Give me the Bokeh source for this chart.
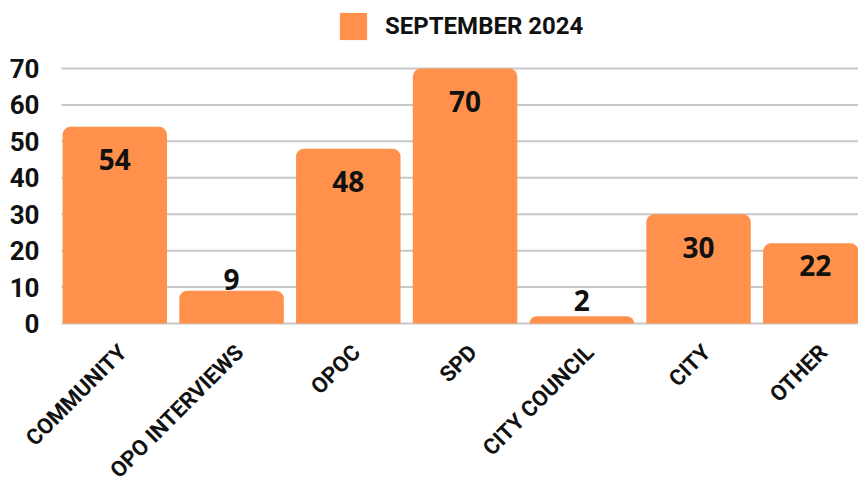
import math
import numpy as np
from bokeh.plotting import figure
from bokeh.models import Range1d, Legend, LegendItem, ColumnDataSource
from bokeh.core.properties import value
from bokeh.embed import file_html
from bokeh.resources import INLINE

categories = ["COMMUNITY", "OPO INTERVIEWS", "OPOC", "SPD", "CITY COUNCIL", "CITY", "OTHER"]
counts = [54, 9, 48, 70, 2, 30, 22]
y_ticks = [0, 10, 20, 30, 40, 50, 60, 70]
series_name = "SEPTEMBER 2024"

LABEL_FONT = "Roboto"
BAR = "#FF914D"
INK = "#111111"
GRID = "#c8c8c8"

W, H = 858, 485
PLOT_LEFT = 61.0      # where the gridlines begin
FIRST_CENTER = 114.3  # screen column of the first bar centre
px_per_x = 116.75
ZERO_Y = 323.0        # screen row of value 0
TOP_Y = 68.0          # screen row of value 70
px_per_y = (ZERO_Y - TOP_Y) / 70.0

x_start = -FIRST_CENTER / px_per_x
x_end = x_start + W / px_per_x
y_start = -(H - ZERO_Y) / px_per_y
y_end = 70 + TOP_Y / px_per_y
grid_x0 = x_start + PLOT_LEFT / px_per_x

xpos = list(range(len(categories)))
cnt = np.array(counts, dtype=float)
label_y = np.where(cnt >= 25, cnt - 9, np.where(cnt >= 15, cnt - 6, np.maximum(cnt + 3, 6.2)))

source = ColumnDataSource(dict(x=xpos, top=counts, label=[str(c) for c in counts], label_y=label_y))
cat_src = ColumnDataSource(dict(x=xpos, y=[-25 / px_per_y] * len(xpos), text=categories))
tick_src = ColumnDataSource(dict(x0=[grid_x0] * len(y_ticks), x1=[x_end] * len(y_ticks),
                                 y=y_ticks, xs=[x_start] * len(y_ticks),
                                 text=[str(t) for t in y_ticks]))

# one frame covering the whole page, so the rotated category labels and legend are never clipped
p = figure(width=W, height=H, x_range=Range1d(x_start, x_end), y_range=Range1d(y_start, y_end),
           output_backend="svg", toolbar_location=None,
           min_border_left=0, min_border_right=0, min_border_top=0, min_border_bottom=0)
p.outline_line_color = None
p.background_fill_color = "white"
p.border_fill_color = "white"
p.xaxis.visible = False
p.yaxis.visible = False
p.grid.visible = False

# horizontal gridlines at the value ticks
p.segment(x0="x0", y0="y", x1="x1", y1="y", source=tick_src, line_color=GRID, line_width=2)

r = p.vbar(x="x", top="top", bottom=0, width=0.895, source=source, fill_color=BAR, line_color=None,
           border_radius=(8, 8, 0, 0))

# value-axis tick labels
p.text(x="xs", y="y", text="text", source=tick_src, x_offset=39, text_align="right",
       text_baseline="middle", text_font=value(LABEL_FONT), text_font_style="bold",
       text_font_size="26px", text_color=INK)

# value labels on the bars
p.text(x="x", y="label_y", text="label", source=source, text_align="center",
       text_baseline="middle", text_font=value("Open Sans"), text_font_style="bold",
       text_font_size="28px", text_color=INK)

# category labels
p.text(x="x", y="y", text="text", source=cat_src, angle=math.pi / 4, x_offset=8,
       text_align="right", text_baseline="middle", text_font=value(LABEL_FONT),
       text_font_style="bold", text_font_size="22px", text_color=INK)

legend = Legend(items=[LegendItem(label=series_name, renderers=[r])], location=(336, H - 43),
                orientation="horizontal", glyph_width=34, glyph_height=34, label_standoff=15,
                padding=0, margin=0, border_line_color=None, background_fill_alpha=0,
                label_text_font=LABEL_FONT, label_text_font_size="24px",
                label_text_font_style="bold", label_height=34, spacing=0,
                label_text_color=INK)
p.add_layout(legend, "center")

open("out.html", "w").write(file_html(p, INLINE))
